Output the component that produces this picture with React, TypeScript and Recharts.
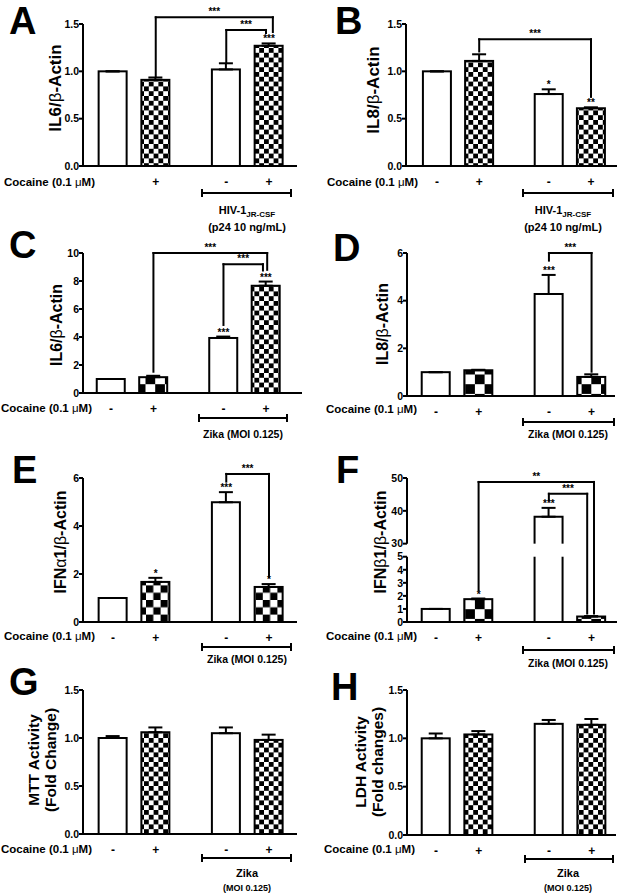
import React from 'react';
import { BarChart, Bar, XAxis, YAxis, ErrorBar, Cell, ReferenceLine, ReferenceDot } from 'recharts';

const FONT = '"Liberation Sans", Arial, Helvetica, sans-serif';

// x categories: control, cocaine, infected, infected + cocaine
const positions = [1, 2, 3.65, 4.65];
const signs = ['-', '+', '-', '+'];
const signsA = ['', '+', '-', '+'];

type Bracket = { from: number; to: number; yFrom: number; yTop: number; yTo: number; label: string };

// A: IL6 / HIV-1
const il6HivMeans = [1.0, 0.91, 1.02, 1.27];
const il6HivErrs = [0, 0.025, 0.065, 0.025];
const il6HivStars = ['', '', '', '***'];
const il6HivBrackets: Bracket[] = [
  { from: 2, to: 4.74, yFrom: 0.95, yTop: 1.571, yTo: 1.415, label: '***' },
  { from: 3.65, to: 4.58, yFrom: 1.09, yTop: 1.437, yTo: 1.405, label: '***' },
];

// B: IL8 / HIV-1
const il8HivMeans = [1.0, 1.11, 0.76, 0.61];
const il8HivErrs = [0, 0.07, 0.05, 0.01];
const il8HivStars = ['', '', '*', '**'];
const il8HivBrackets: Bracket[] = [
  { from: 2, to: 4.65, yFrom: 1.21, yTop: 1.338, yTo: 0.73, label: '***' },
];

// C: IL6 / Zika
const il6ZikaMeans = [1.0, 1.13, 3.93, 7.66];
const il6ZikaErrs = [0, 0.1, 0.1, 0.3];
const il6ZikaStars = ['', '', '***', '***'];
const il6ZikaBrackets: Bracket[] = [
  { from: 2, to: 4.68, yFrom: 1.52, yTop: 10.0, yTo: 8.8, label: '***' },
  { from: 3.65, to: 4.58, yFrom: 4.86, yTop: 9.2, yTo: 8.75, label: '***' },
];

// D: IL8 / Zika
const il8ZikaMeans = [1.0, 1.08, 4.28, 0.8];
const il8ZikaErrs = [0, 0.02, 0.8, 0.11];
const il8ZikaStars = ['', '', '***', ''];
const il8ZikaBrackets: Bracket[] = [
  { from: 3.65, to: 4.65, yFrom: 5.68, yTop: 6.0, yTo: 1.02, label: '***' },
];

// E: IFNa1 / Zika
const ifnaMeans = [1.0, 1.67, 4.99, 1.46];
const ifnaErrs = [0, 0.17, 0.42, 0.12];
const ifnaStars = ['', '*', '***', '*'];
const ifnaBrackets: Bracket[] = [
  { from: 3.65, to: 4.65, yFrom: 5.85, yTop: 6.17, yTo: 1.88, label: '***' },
];

// F: IFNb1 / Zika (broken axis 0-5 | 30-50)
const ifnbMeans = [1.0, 1.75, 38.2, 0.42];
const ifnbErrs = [0, 0.05, 2.7, 0.03];
const ifnbStars = ['', '*', '***', ''];
const ifnbBrackets: Bracket[] = [
  { from: 2, to: 4.71, yFrom: 2.45, yTop: 48.8, yTo: 0.65, label: '**' },
  { from: 3.65, to: 4.55, yFrom: 43.3, yTop: 45.2, yTo: 0.65, label: '***' },
];
const ifnbTickValues = [0, 1, 2, 3, 4, 5, 30, 40, 50];

// G: MTT, H: LDH
const mttMeans = [1.0, 1.06, 1.05, 0.98];
const mttErrs = [0.02, 0.05, 0.06, 0.055];
const ldhMeans = [1.0, 1.04, 1.15, 1.14];
const ldhErrs = [0.05, 0.035, 0.04, 0.06];

// broken axis: lower part 1:1, gap of 1 unit, upper part compressed
const K = 0.2515;
const brk = (v: number) => (v <= 5 ? v : 6 + (v - 30) * K);
const unbrk = (d: number) => (d <= 5 ? d : Math.round(30 + (d - 6) / K));

type PanelCfg = {
  id: string;
  colX: number;
  axisX: number;
  plotRight: number;
  plotTop: number;
  plotBottom: number;
  domainX: [number, number];
  domainY: [number, number];
  yTicks: number[];
  yFmt: (v: number) => string;
  means: number[];
  errs: number[];
  stars: string[];
  brackets: Bracket[];
  signs: string[];
  cells: number[];
  broken?: boolean;
};

const dec1 = (v: number) => v.toFixed(1);
const int = (v: number) => String(v);

const panels: PanelCfg[] = [
  { id: 'A', colX: 0, axisX: 83, plotRight: 297, plotTop: 24, plotBottom: 166, domainX: [0.298, 5.305], domainY: [0, 1.5], yTicks: [0, 0.5, 1, 1.5], yFmt: dec1, means: il6HivMeans, errs: il6HivErrs, stars: il6HivStars, brackets: il6HivBrackets, signs: signsA, cells: [0, 4.8, 0, 4.8] },
  { id: 'B', colX: 310, axisX: 406, plotRight: 617, plotTop: 24, plotBottom: 166, domainX: [0.265, 5.266], domainY: [0, 1.5], yTicks: [0, 0.5, 1, 1.5], yFmt: dec1, means: il8HivMeans, errs: il8HivErrs, stars: il8HivStars, brackets: il8HivBrackets, signs, cells: [0, 4.8, 0, 4.8] },
  { id: 'C', colX: 0, axisX: 83, plotRight: 302, plotTop: 253, plotBottom: 393, domainX: [0.341, 5.5], domainY: [0, 10], yTicks: [0, 2, 4, 6, 8, 10], yFmt: int, means: il6ZikaMeans, errs: il6ZikaErrs, stars: il6ZikaStars, brackets: il6ZikaBrackets, signs, cells: [0, 9.7, 0, 4.8] },
  { id: 'D', colX: 310, axisX: 407, plotRight: 615, plotTop: 253, plotBottom: 396, domainX: [0.319, 5.2], domainY: [0, 6], yTicks: [0, 2, 4, 6], yFmt: int, means: il8ZikaMeans, errs: il8ZikaErrs, stars: il8ZikaStars, brackets: il8ZikaBrackets, signs, cells: [0, 9.7, 0, 9.7] },
  { id: 'E', colX: 0, axisX: 83, plotRight: 297, plotTop: 478, plotBottom: 622, domainX: [0.298, 5.305], domainY: [0, 6], yTicks: [0, 2, 4, 6], yFmt: int, means: ifnaMeans, errs: ifnaErrs, stars: ifnaStars, brackets: ifnaBrackets, signs, cells: [0, 7.3, 0, 7.3] },
  { id: 'F', colX: 310, axisX: 407, plotRight: 617, plotTop: 478, plotBottom: 622, domainX: [0.319, 5.25], domainY: [0, brk(50)], yTicks: ifnbTickValues.map(brk), yFmt: (d) => String(unbrk(d)), means: ifnbMeans, errs: ifnbErrs, stars: ifnbStars, brackets: ifnbBrackets, signs, cells: [0, 9.7, 0, 9.7], broken: true },
  { id: 'G', colX: 0, axisX: 83, plotRight: 297, plotTop: 690, plotBottom: 834, domainX: [0.298, 5.305], domainY: [0, 1.5], yTicks: [0, 0.5, 1, 1.5], yFmt: dec1, means: mttMeans, errs: mttErrs, stars: [], brackets: [], signs, cells: [0, 4.8, 0, 4.8] },
  { id: 'H', colX: 310, axisX: 407, plotRight: 616, plotTop: 690, plotBottom: 835, domainX: [0.319, 5.22], domainY: [0, 1.5], yTicks: [0, 0.5, 1, 1.5], yFmt: dec1, means: ldhMeans, errs: ldhErrs, stars: [], brackets: [], signs, cells: [0, 4.8, 0, 4.8] },
];

const line = { stroke: '#000', strokeWidth: 2, strokeLinecap: 'square' as const };

// significance stars, drawn just above the point the dot sits on
const starContent = (text: string, lift: number) => (props: any) => {
  const vb = props.viewBox || {};
  return (
    <text x={vb.x} y={vb.y - lift} textAnchor="middle" fill="#000" fontSize={10} fontWeight="bold" fontFamily={FONT}>
      {text}
    </text>
  );
};

// bar outline; on the broken axis the part between 5 and 30 is left blank
const barShape = (broken: boolean) => (props: any) => {
  const { x, y, width, height, fill, payload } = props;
  const v = payload?.v ?? 0;
  let gap = null;
  if (broken && v > 6 && height > 0) {
    const ppu = height / v;
    const base = y + height;
    gap = <rect x={x - 2} y={base - 6 * ppu} width={width + 4} height={ppu} fill="#fff" />;
  }
  return (
    <g>
      <rect x={x} y={y} width={width} height={height} fill={fill} stroke="#000" strokeWidth={2} />
      {gap}
    </g>
  );
};

function Panel({ cfg }: { cfg: PanelCfg }) {
  const t = cfg.broken ? brk : (v: number) => v;
  const chartTop = cfg.plotTop - 24;
  const width = cfg.plotRight + 4 - cfg.colX;
  const height = cfg.plotBottom - chartTop + 30;
  const data = positions.map((x, i) => ({
    x,
    v: t(cfg.means[i]),
    err: [0, t(cfg.means[i] + cfg.errs[i]) - t(cfg.means[i])],
  }));
  const x0 = cfg.domainX[0];

  return (
    <div style={{ position: 'absolute', left: cfg.colX, top: chartTop }}>
      <BarChart
        width={width}
        height={height}
        data={data}
        margin={{ top: 24, right: 4, left: cfg.axisX - cfg.colX - 30, bottom: 0 }}
      >
        <defs>
          {cfg.cells.map((c, i) =>
            c ? (
              <pattern key={i} id={`chk-${cfg.id}-${i}`} width={2 * c} height={2 * c} patternUnits="userSpaceOnUse">
                <rect width={2 * c} height={2 * c} fill="#fff" />
                <rect width={c} height={c} fill="#000" />
                <rect x={c} y={c} width={c} height={c} fill="#000" />
              </pattern>
            ) : null
          )}
        </defs>
        <XAxis
          type="number"
          dataKey="x"
          domain={cfg.domainX}
          ticks={positions}
          interval={0}
          allowDataOverflow
          tickFormatter={(_v: number, i: number) => cfg.signs[i]}
          axisLine={{ stroke: '#000', strokeWidth: 2 }}
          tickLine={false}
          tickSize={8}
          tickMargin={3}
          height={30}
          tick={{ fill: '#000', fontSize: 12, fontWeight: 'bold', fontFamily: FONT }}
        />
        <YAxis
          type="number"
          domain={cfg.domainY}
          ticks={cfg.yTicks}
          interval={0}
          allowDataOverflow
          tickFormatter={cfg.yFmt}
          width={30}
          axisLine={cfg.broken ? false : { stroke: '#000', strokeWidth: 2 }}
          tickLine={{ stroke: '#000', strokeWidth: 2 }}
          tickSize={4}
          tickMargin={0}
          tick={{ fill: '#000', fontSize: 10.5, fontWeight: 'bold', fontFamily: FONT }}
        />
        <Bar dataKey="v" barSize={28} shape={barShape(!!cfg.broken)} isAnimationActive={false}>
          {data.map((_d, i) => (
            <Cell key={i} fill={cfg.cells[i] ? `url(#chk-${cfg.id}-${i})` : '#fff'} />
          ))}
          <ErrorBar dataKey="err" width={7} stroke="#000" strokeWidth={2} isAnimationActive={false} />
        </Bar>
        {cfg.broken && (
          <ReferenceLine segment={[{ x: x0, y: 0 }, { x: x0, y: 5 }]} {...line} strokeLinecap="butt" ifOverflow="visible" />
        )}
        {cfg.broken && (
          <ReferenceLine segment={[{ x: x0, y: 6 }, { x: x0, y: brk(50) }]} {...line} strokeLinecap="butt" ifOverflow="visible" />
        )}
        {cfg.brackets.flatMap((b, k) => [
          <ReferenceLine key={`a${k}`} segment={[{ x: b.from, y: t(b.yFrom) }, { x: b.from, y: t(b.yTop) }]} {...line} ifOverflow="visible" />,
          <ReferenceLine key={`b${k}`} segment={[{ x: b.from, y: t(b.yTop) }, { x: b.to, y: t(b.yTop) }]} {...line} ifOverflow="visible" />,
          <ReferenceLine key={`c${k}`} segment={[{ x: b.to, y: t(b.yTop) }, { x: b.to, y: t(b.yTo) }]} {...line} ifOverflow="visible" />,
          <ReferenceDot
            key={`d${k}`}
            x={(b.from + b.to) / 2}
            y={t(b.yTop)}
            r={0}
            fill="none"
            stroke="none"
            ifOverflow="visible"
            label={starContent(b.label, 2)}
          />,
        ])}
        {cfg.stars.map((s, i) =>
          s ? (
            <ReferenceDot
              key={`s${i}`}
              x={positions[i]}
              y={t(cfg.means[i] + cfg.errs[i])}
              r={0}
              fill="none"
              stroke="none"
              ifOverflow="visible"
              label={starContent(s, 1)}
            />
          ) : null
        )}
      </BarChart>
    </div>
  );
}

const GREEK = /([αβμ])/;
function rich(s: string) {
  return s
    .split(GREEK)
    .filter(Boolean)
    .map((p, i) => (GREEK.test(p) ? <tspan key={i} fontWeight="normal">{p}</tspan> : <tspan key={i}>{p}</tspan>));
}

const letters = [
  { t: 'A', x: 9, y: 34 }, { t: 'B', x: 335, y: 34 },
  { t: 'C', x: 9, y: 258 }, { t: 'D', x: 333, y: 261 },
  { t: 'E', x: 12, y: 483 }, { t: 'F', x: 336, y: 483 },
  { t: 'G', x: 9, y: 695 }, { t: 'H', x: 331, y: 700 },
];

const titles = [
  { lines: ['IL6/β-Actin'], x: [55], y: 88, fs: 17 },
  { lines: ['IL8/β-Actin'], x: [373], y: 90, fs: 17 },
  { lines: ['IL6/β-Actin'], x: [56], y: 325, fs: 16 },
  { lines: ['IL8/β-Actin'], x: [382], y: 324, fs: 16 },
  { lines: ['IFNα1/β-Actin'], x: [60], y: 542, fs: 16 },
  { lines: ['IFNβ1/β-Actin'], x: [380], y: 542, fs: 16 },
  { lines: ['MTT Activity', '(Fold Change)'], x: [33, 50], y: 760, fs: 15.5 },
  { lines: ['LDH Activity', '(Fold changes)'], x: [360, 377], y: 762, fs: 15.5 },
];

const cocaineLabels = [
  { x: 95, y: 186 }, { x: 418, y: 186 }, { x: 92, y: 412 }, { x: 417, y: 413 },
  { x: 95, y: 640 }, { x: 417, y: 640 }, { x: 92, y: 853 }, { x: 415, y: 853 },
];

const groupBars = [
  { x1: 202, x2: 291, y: 193 }, { x1: 523, x2: 613, y: 193 },
  { x1: 199, x2: 287, y: 418 }, { x1: 523, x2: 614, y: 422 },
  { x1: 202, x2: 291, y: 647 }, { x1: 523, x2: 614, y: 650 },
  { x1: 202, x2: 291, y: 858 }, { x1: 525, x2: 613, y: 859 },
];

const zikaLabels = [
  { x: 243, y: 438 }, { x: 568, y: 438 }, { x: 247, y: 663 }, { x: 568, y: 667 },
];

function Overlay() {
  return (
    <svg width={620} height={893} style={{ position: 'absolute', left: 0, top: 0, pointerEvents: 'none' }} fontFamily={FONT} fill="#000">
      {letters.map((l) => (
        <text key={l.t} x={l.x} y={l.y} fontSize={38} fontWeight="bold">{l.t}</text>
      ))}
      {titles.map((t, i) =>
        t.lines.map((ln, j) => (
          <text
            key={`${i}-${j}`}
            transform={`translate(${t.x[j]},${t.y}) rotate(-90)`}
            textAnchor="middle"
            dominantBaseline="central"
            fontSize={t.fs}
            fontWeight="bold"
          >
            {rich(ln)}
          </text>
        ))
      )}
      {cocaineLabels.map((c, i) => (
        <text key={i} x={c.x} y={c.y} textAnchor="end" fontSize={11.5} fontWeight="bold">
          {rich('Cocaine (0.1 μM)')}
        </text>
      ))}
      {groupBars.map((g, i) => (
        <g key={i} stroke="#000" strokeWidth={2}>
          <line x1={g.x1} x2={g.x2} y1={g.y} y2={g.y} />
          <line x1={g.x1} x2={g.x1} y1={g.y - 4} y2={g.y + 4} />
          <line x1={g.x2} x2={g.x2} y1={g.y - 4} y2={g.y + 4} />
        </g>
      ))}
      {[247, 563].map((x) => (
        <g key={x}>
          <text x={x} y={214} textAnchor="middle" fontSize={11} fontWeight="bold">
            HIV-1<tspan fontSize={8} dy={3}>JR-CSF</tspan>
          </text>
          <text x={x} y={231} textAnchor="middle" fontSize={11} fontWeight="bold">(p24 10 ng/mL)</text>
        </g>
      ))}
      {zikaLabels.map((z, i) => (
        <text key={i} x={z.x} y={z.y} textAnchor="middle" fontSize={10.5} fontWeight="bold">Zika (MOI 0.125)</text>
      ))}
      {[247, 568].map((x) => (
        <g key={x}>
          <text x={x} y={877} textAnchor="middle" fontSize={11} fontWeight="bold">Zika</text>
          <text x={x} y={891} textAnchor="middle" fontSize={9} fontWeight="bold">(MOI 0.125)</text>
        </g>
      ))}
    </svg>
  );
}

export default function App() {
  return (
    <div style={{ position: 'absolute', left: 0, top: 0, width: 620, height: 893, background: '#fff', fontFamily: FONT }}>
      {panels.map((p) => (
        <Panel key={p.id} cfg={p} />
      ))}
      <Overlay />
    </div>
  );
}
